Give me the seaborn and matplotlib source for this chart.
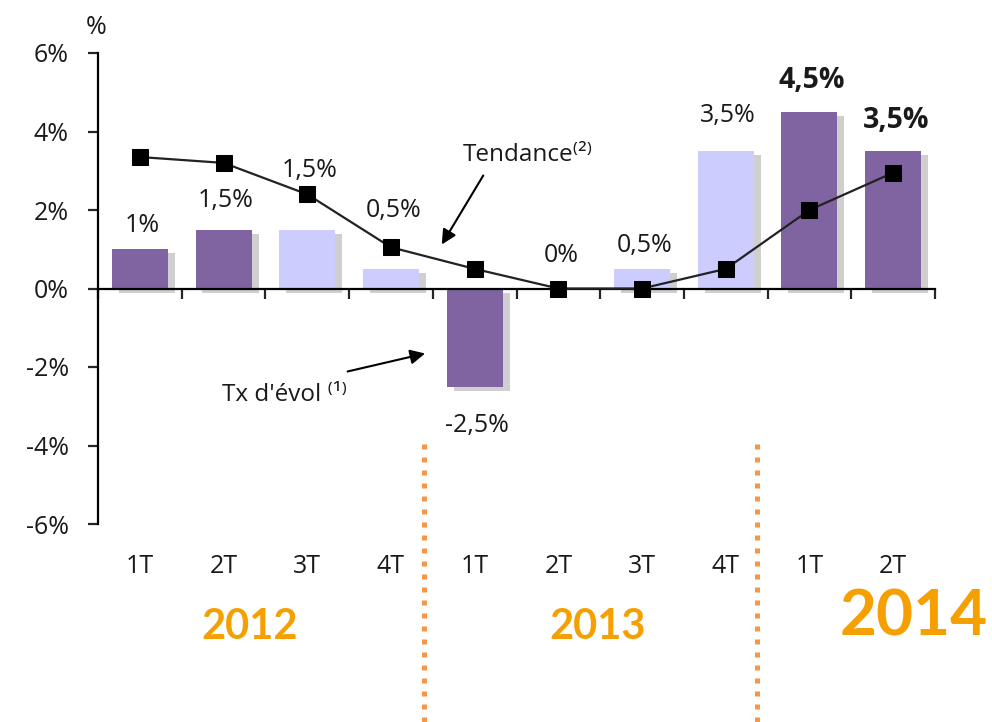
import numpy as np
import pandas as pd
import matplotlib
matplotlib.use("Agg")
import matplotlib.pyplot as plt
import matplotlib.patheffects as pe
import matplotlib.transforms as mtransforms
import seaborn as sns

# données
annees = ["2012", "2013", "2014"]
trimestres = ["1T", "2T", "3T", "4T", "1T", "2T", "3T", "4T", "1T", "2T"]
periodes = ["2012-1T", "2012-2T", "2012-3T", "2012-4T",
            "2013-1T", "2013-2T", "2013-3T", "2013-4T",
            "2014-1T", "2014-2T"]
tx_evol = [1.0, 1.5, 1.5, 0.5, -2.5, 0.0, 0.5, 3.5, 4.5, 3.5]
tendance = [3.35, 3.2, 2.4, 1.05, 0.5, 0.0, 0.0, 0.5, 2.0, 2.95]
etiquettes = ["1%", "1,5%", "1,5%", "0,5%", "-2,5%", "0%", "0,5%", "3,5%", "4,5%", "3,5%"]
yticks = [-6, -4, -2, 0, 2, 4, 6]

FONCE = "#8064A2"
CLAIR = "#CCCCFF"
ORANGE = "#F79646"
ANNEE = "#F5A000"
couleurs = [FONCE, FONCE, CLAIR, CLAIR, FONCE, FONCE, CLAIR, CLAIR, FONCE, FONCE]

sns.set_style("white")
plt.rcParams['font.family'] = ['Open Sans', 'DejaVu Sans']
TXT = "#1a1a1a"

df = pd.DataFrame({"periode": periodes, "tx": tx_evol})

fig = plt.figure(figsize=(9.92, 7.22), dpi=100)
ax = fig.add_axes([98 / 992, (722 - 524) / 722, (935 - 98) / 992, (524 - 53) / 722])

sns.barplot(data=df, x="periode", y="tx", hue="periode", palette=couleurs,
            width=0.67, legend=False, saturation=1, ax=ax, zorder=2)
ombre = [pe.SimplePatchShadow(offset=(5, -3), shadow_rgbFace="#555555", alpha=0.28),
         pe.Normal()]
for p in ax.patches:
    p.set_edgecolor("none")
    if abs(p.get_height()) > 0:
        p.set_path_effects(ombre)

# courbe de tendance
sns.lineplot(x=np.arange(len(tendance)), y=tendance, ax=ax, color="#222222",
             lw=1.6, marker="s", markersize=12, markeredgecolor="black",
             markerfacecolor="black", zorder=4)

# étiquettes de valeurs (hauteurs choisies pour éviter la courbe)
pos_etiq = [1.6, 2.24, 3.0, 2.0, -3.5, 0.84, 1.1, 4.4, 5.3, 4.28]
for i, (txt, yy) in enumerate(zip(etiquettes, pos_etiq)):
    gras = i >= 8
    ax.text(i + 0.03, yy, txt, ha="center", va="center", fontsize=20.5 if gras else 18,
            fontweight="bold" if gras else "normal", color=TXT, zorder=5)

# axes
ax.set_xlim(-0.5, len(periodes) - 0.5)
ax.set_ylim(-6, 6)
ax.set_xlabel("")
ax.set_ylabel("")
for s in ["top", "right"]:
    ax.spines[s].set_visible(False)
ax.spines["bottom"].set_position(("data", 0))
ax.spines["bottom"].set_linewidth(1.6)
ax.spines["left"].set_linewidth(1.6)
ax.spines["bottom"].set_color("black")
ax.spines["left"].set_color("black")
ax.spines["bottom"].set_zorder(3)

ax.set_yticks(yticks)
ax.set_yticklabels([f"{v}%" for v in yticks])
ax.tick_params(axis="y", direction="out", length=7, width=1.6, pad=14,
               labelsize=18, labelcolor=TXT, left=True)
ax.set_xticks(np.arange(len(periodes)))
ax.set_xticklabels([])
ax.tick_params(axis="x", which="major", length=0)
ax.set_xticks(np.arange(-0.5, len(periodes), 1), minor=True)
ax.tick_params(axis="x", which="minor", direction="out", length=7, width=1.6,
               bottom=True)

trans = mtransforms.blended_transform_factory(ax.transData, ax.transAxes)
for i, t in enumerate(trimestres):
    ax.text(i, -0.091, t, transform=trans, ha="center", va="center",
            fontsize=18, color=TXT)

# séparateurs d'années
for xs in [3.39, 7.37]:
    ax.axvline(xs, ymin=-0.42, ymax=0.183, color=ORANGE, lw=3.6,
               linestyle=(0, (1.0, 1.6)), dash_capstyle="butt", clip_on=False)

fig.text(250 / 992, 1 - 627 / 722, annees[0], ha="center", va="center",
         fontsize=30, fontweight="bold", color=ANNEE, family="Lato")
fig.text(598 / 992, 1 - 627 / 722, annees[1], ha="center", va="center",
         fontsize=30, fontweight="bold", color=ANNEE, family="Lato")
fig.text(914 / 992, 1 - 617 / 722, annees[2], ha="center", va="center",
         fontsize=46, fontweight="bold", color=ANNEE, family="Lato")

fig.text(96 / 992, 1 - 27 / 722, "%", ha="center", va="center", fontsize=18, color=TXT)

# annotations
ax.annotate("", xy=(3.59, 1.06), xytext=(4.12, 2.94),
            arrowprops=dict(arrowstyle="-|>", color="black", lw=1.5, mutation_scale=22))
ax.text(3.86, 3.4, "Tendance⁽²⁾", ha="left", va="center", fontsize=17.5, color=TXT)
ax.annotate("", xy=(3.44, -1.64), xytext=(2.45, -2.13),
            arrowprops=dict(arrowstyle="-|>", color="black", lw=1.5, mutation_scale=22))
ax.text(0.98, -2.71, "Tx d'évol ⁽¹⁾", ha="left", va="center", fontsize=17.5, color=TXT)

fig.savefig("out.png", dpi=100)
